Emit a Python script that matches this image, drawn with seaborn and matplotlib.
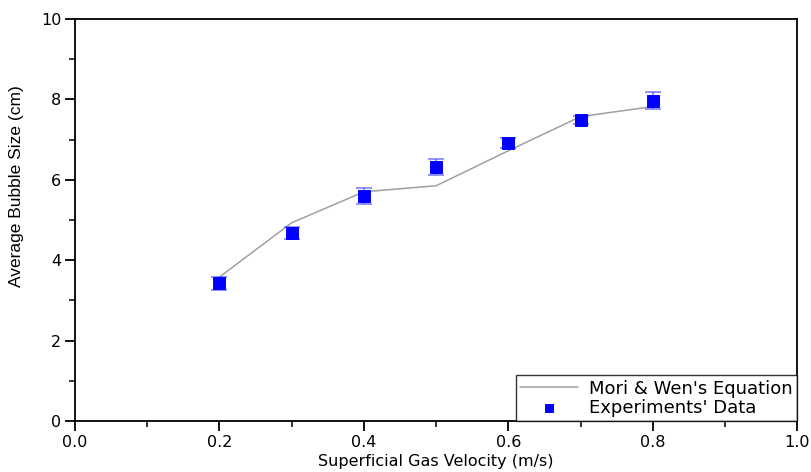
import numpy as np
import pandas as pd
import matplotlib
matplotlib.use("Agg")
import matplotlib.pyplot as plt
import seaborn as sns
from matplotlib.ticker import MultipleLocator

# data
velocity = [0.2, 0.3, 0.4, 0.5, 0.6, 0.7, 0.8]
mori_wen = [3.58, 4.93, 5.70, 5.85, 6.72, 7.57, 7.82]
exp_size = [3.42, 4.68, 5.60, 6.32, 6.92, 7.49, 7.97]
exp_err = [0.15, 0.15, 0.2, 0.2, 0.12, 0.1, 0.22]

df = pd.DataFrame({"v": velocity, "model": mori_wen, "exp": exp_size, "err": exp_err})

sns.set_style("ticks")
plt.rcParams["font.family"] = ["DejaVu Sans"]
plt.rcParams["text.color"] = "black"
plt.rcParams["axes.labelcolor"] = "black"
plt.rcParams["xtick.color"] = "black"
plt.rcParams["ytick.color"] = "black"

fig = plt.figure(figsize=(8.11, 4.72), dpi=100)
ax = fig.add_axes([0.0925, 0.108, 0.8905, 0.852])

sns.lineplot(data=df, x="v", y="model", ax=ax, color="#a0a0a0", linewidth=1.1,
             label="Mori & Wen's Equation")
ax.errorbar(df["v"], df["exp"], yerr=df["err"], fmt="none", ecolor="#4a4aff",
            elinewidth=1.2, capsize=6, capthick=1.2, alpha=0.7)
sns.scatterplot(data=df, x="v", y="exp", ax=ax, marker="s", s=72, color="#0000ff",
                edgecolor="#0000ff", label="Experiments' Data", zorder=3)

ax.set_xlim(0, 1.0)
ax.set_ylim(0, 10)
ax.xaxis.set_major_locator(MultipleLocator(0.2))
ax.xaxis.set_minor_locator(MultipleLocator(0.1))
ax.yaxis.set_major_locator(MultipleLocator(2))
ax.yaxis.set_minor_locator(MultipleLocator(1))
ax.xaxis.set_major_formatter(matplotlib.ticker.FormatStrFormatter("%.1f"))

ax.tick_params(which="major", direction="out", length=7, width=1.3, labelsize=11.5, pad=3)
ax.tick_params(which="minor", direction="out", length=4, width=1.1)
for s in ax.spines.values():
    s.set_linewidth(1.3)
    s.set_color("black")

ax.set_xlabel("Superficial Gas Velocity (m/s)", fontsize=11.5, labelpad=3)
ax.set_ylabel("Average Bubble Size (cm)", fontsize=12.5,
              family=["Liberation Sans Narrow", "Liberation Sans"])
ax.yaxis.set_label_coords(-0.07, 0.585)

leg = ax.legend(loc="lower right", frameon=True, fancybox=False, fontsize=13,
                borderaxespad=0, handlelength=3.2, labelspacing=0.05, borderpad=0.25,
                handletextpad=0.6, markerscale=0.6)
leg.get_frame().set_edgecolor("black")
leg.get_frame().set_linewidth(1.0)

fig.savefig("out.png", dpi=100)
